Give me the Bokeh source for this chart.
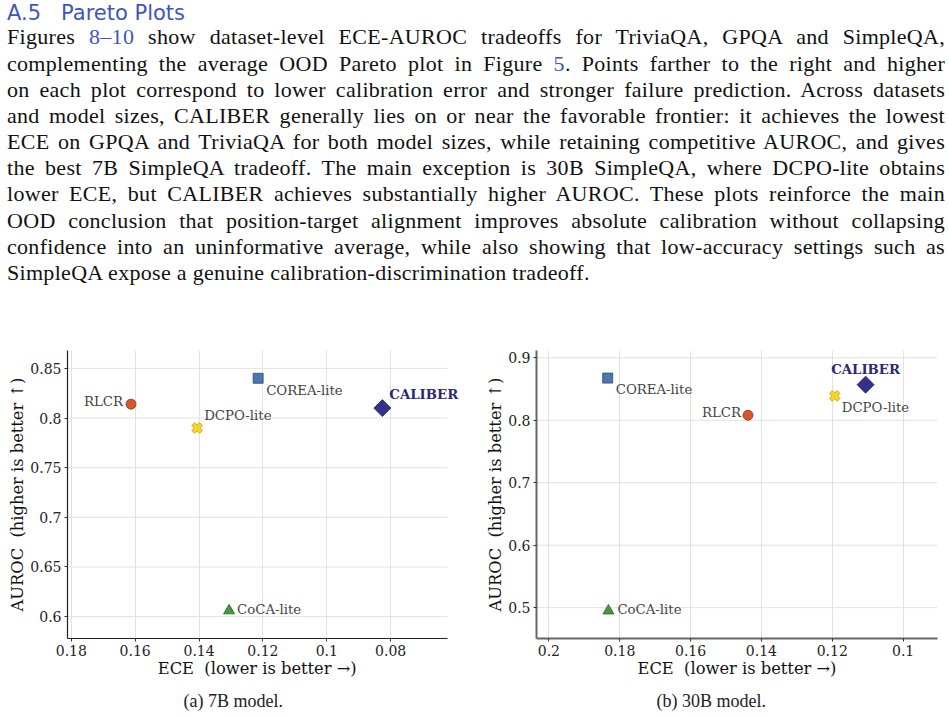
import math
from bokeh.plotting import figure
from bokeh.models import Range1d, FixedTicker, Div, Title, Label
from bokeh.layouts import column, row
from bokeh.embed import file_html
from bokeh.resources import INLINE

# ---------------- data ----------------
methods = ["RLCR", "DCPO-lite", "COREA-lite", "CoCA-lite", "CALIBER"]
ece_7b = [0.1613, 0.1406, 0.1215, 0.1306, 0.0826]
auroc_7b = [0.814, 0.790, 0.840, 0.606, 0.810]
ece_30b = [0.1438, 0.1193, 0.1834, 0.1832, 0.1106]
auroc_30b = [0.808, 0.839, 0.8675, 0.495, 0.857]

xticks_7b = [0.18, 0.16, 0.14, 0.12, 0.10, 0.08]
xlabels_7b = ["0.18", "0.16", "0.14", "0.12", "0.1", "0.08"]
yticks_7b = [0.60, 0.65, 0.70, 0.75, 0.80, 0.85]
ylabels_7b = ["0.6", "0.65", "0.7", "0.75", "0.8", "0.85"]
xticks_30b = [0.20, 0.18, 0.16, 0.14, 0.12, 0.10]
xlabels_30b = ["0.2", "0.18", "0.16", "0.14", "0.12", "0.1"]
yticks_30b = [0.5, 0.6, 0.7, 0.8, 0.9]
ylabels_30b = ["0.5", "0.6", "0.7", "0.8", "0.9"]

x_label = "ECE\u00a0\u00a0(lower is better \u2192)"
y_label = "AUROC\u00a0\u00a0(higher is better \u2191)"
captions = ["(a) 7B model.", "(b) 30B model."]

heading_num = "A.5"
heading_txt = "Pareto Plots"
para_lines = [
    'Figures <span class="ln">8\u201310</span> show dataset-level ECE-AUROC tradeoffs for TriviaQA, GPQA and SimpleQA,',
    'complementing the average OOD Pareto plot in Figure <span class="ln">5</span>. Points farther to the right and higher',
    'on each plot correspond to lower calibration error and stronger failure prediction. Across datasets',
    'and model sizes, CALIBER generally lies on or near the favorable frontier: it achieves the lowest',
    'ECE on GPQA and TriviaQA for both model sizes, while retaining competitive AUROC, and gives',
    'the best 7B SimpleQA tradeoff. The main exception is 30B SimpleQA, where DCPO-lite obtains',
    'lower ECE, but CALIBER achieves substantially higher AUROC. These plots reinforce the main',
    'OOD conclusion that position-target alignment improves absolute calibration without collapsing',
    'confidence into an uninformative average, while also showing that low-accuracy settings such as',
    'SimpleQA expose a genuine calibration-discrimination tradeoff.',
]

# ---------------- styles ----------------
SERIF = "DejaVu Serif"
styles = {
    "RLCR": dict(marker="circle", fill="#d9552c", line="#8a3318", size=10, angle=0.0),
    "DCPO-lite": dict(marker="plus", fill="#f6d42a", line="#c9a000", size=11, angle=math.pi / 4),
    "COREA-lite": dict(marker="square", fill="#4a78aa", line="#2c4a70", size=10, angle=0.0),
    "CoCA-lite": dict(marker="triangle", fill="#429a42", line="#28652a", size=11, angle=0.0),
    "CALIBER": dict(marker="square", fill="#35318a", line="#1e1b58", size=12, angle=math.pi / 4),
}
# label offsets (screen px; +dy = down): align, dx, dy
offsets_7b = {
    "RLCR": ("right", -8, -3),
    "DCPO-lite": ("left", 7, -12),
    "COREA-lite": ("left", 8, 12),
    "CoCA-lite": ("left", 8, -1),
    "CALIBER": ("left", 7, -14),
}
offsets_30b = {
    "RLCR": ("right", -7, -3),
    "DCPO-lite": ("left", 7, 12),
    "COREA-lite": ("left", 8, 11),
    "CoCA-lite": ("left", 9, -1),
    "CALIBER": ("center", 0, -15),
}


def make_plot(xs, ys, xr, x_axis_end, yr, xt, xl, yt, yl, offs, caption, width, borders,
              spine_color, spine_w, cap_offset, xlab):
    p = figure(width=width, height=388, x_range=Range1d(*xr), y_range=Range1d(*yr),
               output_backend="svg", toolbar_location=None,
               min_border_left=borders[0], min_border_right=borders[1],
               min_border_top=borders[2], min_border_bottom=79)
    p.outline_line_color = None
    p.background_fill_color = "white"
    p.border_fill_color = "white"
    for ax, ticks, labels in ((p.xaxis[0], xt, xl), (p.yaxis[0], yt, yl)):
        ax.ticker = FixedTicker(ticks=ticks)
        ax.major_label_overrides = {t: s for t, s in zip(ticks, labels)}
        ax.minor_tick_line_color = None
        ax.major_tick_in = 0
        ax.major_tick_out = 3
        ax.major_tick_line_color = "#333333"
        ax.axis_line_color = spine_color
        ax.axis_line_width = spine_w
        ax.major_label_text_font = SERIF
        ax.major_label_text_font_size = "14px"
        ax.major_label_text_color = "#222222"
        ax.major_label_standoff = 3
        ax.axis_label_text_font = SERIF
        ax.axis_label_text_font_size = "16.3px"
        ax.axis_label_text_font_style = "normal"
        ax.axis_label_text_color = "#111111"
        ax.axis_label_standoff = 0
    p.xaxis.axis_label = xlab
    p.yaxis.axis_label = y_label
    p.xaxis.bounds = (min(xr[0], x_axis_end), max(xr[0], x_axis_end))
    # vertical grid from the axis; horizontal grid lines drawn only up to the axis end
    p.xgrid.grid_line_color = "#e2e2e2"
    p.ygrid.grid_line_color = None
    p.segment(x0=[xr[0]] * len(yt), x1=[x_axis_end] * len(yt), y0=yt, y1=yt,
              line_color="#e2e2e2", line_width=1, level="underlay")

    for m, x, y in zip(methods, xs, ys):
        st = styles[m]
        p.scatter([x], [y], marker=st["marker"], size=st["size"], angle=st["angle"],
                  fill_color=st["fill"], line_color=st["line"], line_width=0.8)
        align, dx, dy = offs[m]
        bold = m == "CALIBER"
        p.add_layout(Label(x=x, y=y, text=m, x_offset=dx, y_offset=-dy,
                           text_align=align, text_baseline="middle",
                           text_font=SERIF, text_font_size="13.3px",
                           text_font_style="bold" if bold else "normal",
                           text_color="#2b2876" if bold else "#444444"))

    p.add_layout(Title(text=caption, align="left", text_font="Liberation Serif",
                       text_font_size="18px", text_font_style="normal", text_color="#222222",
                       standoff=16, offset=cap_offset), "below")
    return p


p1 = make_plot(ece_7b, auroc_7b, (0.1812, 0.0575), 0.0622, (0.578, 0.868),
               xticks_7b, xlabels_7b, yticks_7b, ylabels_7b, offsets_7b, captions[0],
               474, (67, 12, 18), "#222222", 1.2, 116, x_label + "\u00a0\u00a0\u00a0")
p2 = make_plot(ece_30b, auroc_30b, (0.2035, 0.0903), 0.0903, (0.4506, 0.9117),
               xticks_30b, xlabels_30b, yticks_30b, ylabels_30b, offsets_30b, captions[1],
               475, (62, 12, 20), "#666666", 2, 120, x_label)

line_divs = []
for i, ln in enumerate(para_lines):
    last = i == len(para_lines) - 1
    al = "left" if last else "justify"
    line_divs.append(f'<div style="text-align:{al};text-align-last:{al};">{ln}</div>')

html = f"""
<style>.ln{{color:#3d55c3;}}</style>
<div style="position:relative;width:949px;height:330px;background:white;">
  <div style="position:absolute;left:7px;top:1px;font-family:'DejaVu Sans';font-size:21px;line-height:24px;color:#3d55c3;white-space:nowrap;">{heading_num}<span style="padding-left:20px;">{heading_txt}</span></div>
  <div style="position:absolute;left:7px;top:24.4px;width:938px;font-family:'Liberation Serif';font-size:22px;letter-spacing:0.3px;line-height:26.17px;color:#111111;">
    {''.join(line_divs)}
  </div>
</div>
"""
div = Div(text=html, width=949, height=330, margin=0)

layout = column(div, row(p1, p2, spacing=0), spacing=0)
open("out.html", "w").write(file_html(layout, INLINE))
